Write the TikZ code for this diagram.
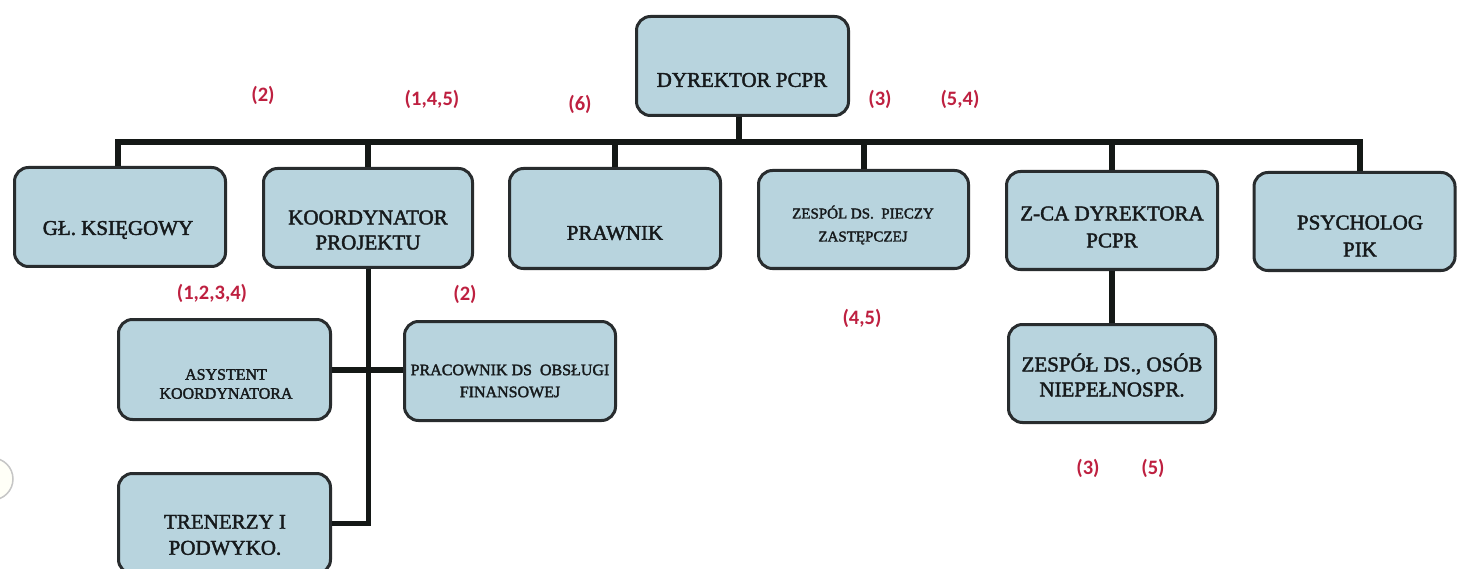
\documentclass[tikz,border=0pt]{standalone}
\usepackage{fontspec}
\setmainfont{Liberation Serif}
\newfontfamily\heavy{Liberation Serif}[FakeBold=2]
\newfontfamily\lblfont{Carlito}
\definecolor{boxfill}{RGB}{184,212,222}
\definecolor{boxline}{RGB}{40,44,46}
\definecolor{connc}{RGB}{20,24,22}
\definecolor{txt}{RGB}{22,26,28}
\definecolor{numred}{RGB}{190,32,64}
\begin{document}
\begin{tikzpicture}[x=1pt,y=-1pt,
  box/.style={draw=boxline, line width=3pt, fill=boxfill, rounded corners=14pt, inner sep=0pt},
  conn/.style={draw=connc, line width=6pt},
  big/.style={font=\heavy\fontsize{21}{25}\selectfont, align=center, text=txt, inner sep=0pt},
  small/.style={font=\heavy\fontsize{16}{20}\selectfont, align=center, text=txt, inner sep=0pt},
  num/.style={font=\lblfont\bfseries\fontsize{20.5}{22}\selectfont, text=numred, inner sep=0pt}]
\path[clip] (0,0) rectangle (1458,569);
\fill[white] (0,0) rectangle (1458,569);
% stray circle at left edge
\draw[draw=gray!45, line width=1.5pt, fill=yellow!3] (-8,479) circle (21pt);
% boxes
\node[box, minimum width=212, minimum height=99] (dyr) at (742.5,66) {};
\node[box, minimum width=211, minimum height=99] (gk) at (120,217) {};
\node[box, minimum width=209, minimum height=99] (kp) at (368,218) {};
\node[box, minimum width=211, minimum height=100] (pr) at (615,218.5) {};
\node[box, minimum width=210, minimum height=98] (zp) at (863.5,219.5) {};
\node[box, minimum width=211, minimum height=98] (zca) at (1112,220.5) {};
\node[box, minimum width=201, minimum height=98] (psy) at (1354.5,221.5) {};
\node[box, minimum width=212, minimum height=100] (as) at (224.5,369.5) {};
\node[box, minimum width=211, minimum height=99] (pf) at (510,371) {};
\node[box, minimum width=212, minimum height=100] (tr) at (224.5,523.5) {};
\node[box, minimum width=207, minimum height=98] (zo) at (1112,373.5) {};
% connectors
\coordinate (bus) at (0,142);
\draw[conn] ([xshift=-2pt]gk.north) -- ([xshift=-2pt]gk.north |- bus) -- ([xshift=5pt]psy.north |- bus) -- ([xshift=5pt]psy.north);
\draw[conn] ([xshift=-4pt]dyr.south) -- ([xshift=-4pt]dyr.south |- bus);
\draw[conn] (kp.north) -- (kp.north |- bus);
\draw[conn] (pr.north) -- (pr.north |- bus);
\draw[conn] (zp.north) -- (zp.north |- bus);
\draw[conn] (zca.north) -- (zca.north |- bus);
\draw[conn] (zca.south) -- (zo.north);
\draw[conn, line width=5pt] (kp.south) -- (kp.south |- tr.east) -- (tr.east);
\draw[conn] (as.east) -- (as.east -| pf.west);
% texts
\node[big] (t-dyr) at (742,80) {DYREKTOR PCPR};
\node[big] (t-gk) at (118,230) {GŁ. KSIĘGOWY};
\node[big] (t-kp) at (368,230) {KOORDYNATOR\\PROJEKTU};
\node[big] (t-pr) at (615,233) {PRAWNIK};
\node[small, font=\heavy\fontsize{15}{23}\selectfont] (t-zp) at (863,225) {ZESPÓL DS.\enspace PIECZY\\ZASTĘPCZEJ};
\node[big, font=\heavy\fontsize{21}{27}\selectfont] (t-zca) at (1112,227) {Z-CA DYREKTORA\\PCPR};
\node[big, font=\heavy\fontsize{21}{27}\selectfont] (t-psy) at (1360,236) {PSYCHOLOG\\PIK};
\node[small, font=\heavy\fontsize{16}{19}\selectfont] (t-as) at (226,384) {ASYSTENT\\KOORDYNATORA};
\node[small, font=\heavy\fontsize{16}{22}\selectfont] (t-pf) at (510,381) {PRACOWNIK DS\enspace OBSŁUGI\\FINANSOWEJ};
\node[big, font=\heavy\fontsize{21}{26}\selectfont] (t-tr) at (225,535) {TRENERZY I\\PODWYKO.};
\node[big] (t-zo) at (1112,375) {ZESPÓŁ DS., OSÓB\\NIEPEŁNOSPR.};
% red numbers
\node[num] (n1) at (263,95) {(2)};
\node[num] (n2) at (432,99) {(1,4,5)};
\node[num] (n3) at (580,104) {(6)};
\node[num] (n4) at (880,99) {(3)};
\node[num] (n5) at (960,99) {(5,4)};
\node[num] (n6) at (212,293) {(1,2,3,4)};
\node[num] (n7) at (465,294) {(2)};
\node[num] (n8) at (862,318) {(4,5)};
\node[num] (n9) at (1088,468) {(3)};
\node[num] (n10) at (1153,468) {(5)};
\end{tikzpicture}
\end{document}
